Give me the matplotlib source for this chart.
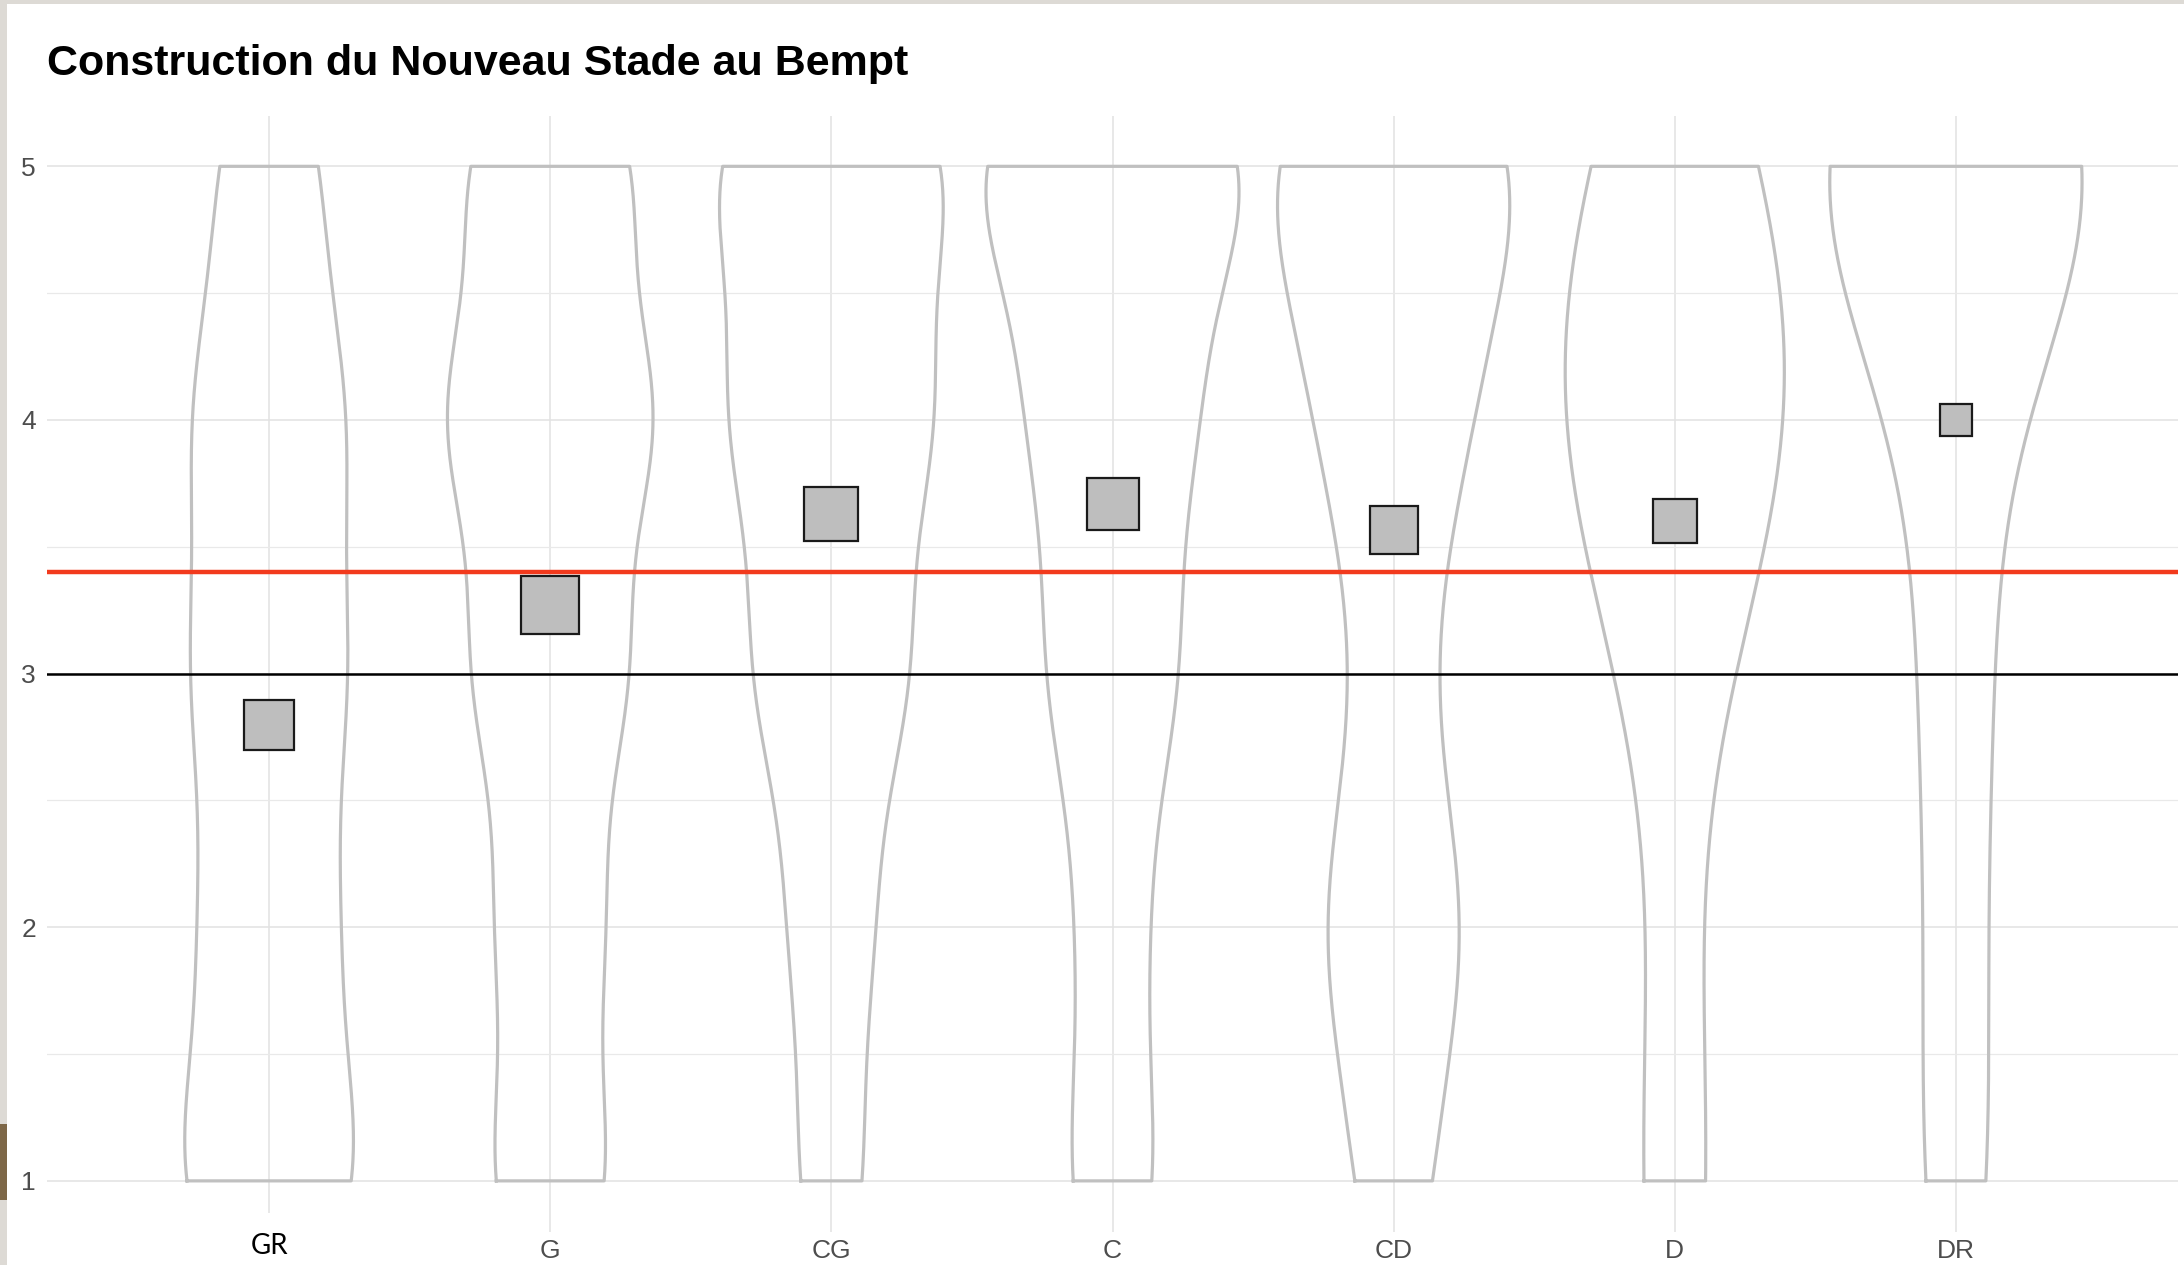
import numpy as np
import matplotlib
matplotlib.use('Agg')
import matplotlib.pyplot as plt
from matplotlib.patches import Rectangle

plt.rcParams['font.family'] = ['Liberation Sans', 'DejaVu Sans']

# reponses (1..5) par secteur du stade
groups = ['GR', 'G', 'CG', 'C', 'CD', 'D', 'DR']
levels = [1, 2, 3, 4, 5]
counts = [
    [24, 17, 20, 20, 13],   # GR
    [21, 19, 28, 38, 30],   # G
    [7, 9, 17, 22, 26],     # CG
    [12, 9, 18, 22, 39],    # C
    [7, 14, 6, 14, 26],     # CD
    [1, 0, 0, 3, 1],        # D
    [2, 1, 2, 1, 10],       # DR
]
poids = [74, 100, 84, 80, 68, 55, 30]   # taille des carres (relatif)
seuil_rouge = 3.4
seuil_noir = 3
title = 'Construction du Nouveau Stade au Bempt'


def nrd0(x):
    # meme largeur de bande que R / ggplot
    hi = np.std(x, ddof=1)
    q = np.percentile(x, [25, 75])
    lo = min(hi, (q[1] - q[0]) / 1.34)
    if lo == 0:
        lo = hi
    return 0.9 * lo * len(x) ** -0.2


def kde(x, ys):
    bw = nrd0(x)
    z = (ys[:, None] - x[None, :]) / bw
    return np.exp(-0.5 * z * z).mean(axis=1) / (bw * np.sqrt(2 * np.pi))


fig = plt.figure(figsize=(21.84, 12.65), dpi=100)
ax = fig.add_axes([47 / 2184, 33.4 / 1265, 2131 / 2184, 1116 / 1265])

# bords gris de la capture
fig.add_artist(Rectangle((0, 0), 7 / 2184, 1, transform=fig.transFigure,
                         fc='#dddad5', ec='none', zorder=10))
fig.add_artist(Rectangle((0, 1 - 4 / 1265), 1, 4 / 1265, transform=fig.transFigure,
                         fc='#dddad5', ec='none', zorder=10))
fig.add_artist(Rectangle((0, 65 / 1265), 7 / 2184, 76 / 1265, transform=fig.transFigure,
                         fc='#7d6747', ec='none', zorder=11))

ys = np.linspace(1, 5, 512)
data = [np.repeat(levels, c).astype(float) for c in counts]
dens = [kde(d, ys) for d in data]
fmax = max(f.max() for f in dens)

for i, (d, f) in enumerate(zip(data, dens)):
    x = i + 1
    hw = 0.45 * f / fmax
    ax.plot(np.r_[x - hw, (x + hw)[::-1], x - hw[0]], np.r_[ys, ys[::-1], ys[0]],
            color='#c0c0c0', lw=2.3, zorder=2, solid_joinstyle='round')
    side = 58 * np.sqrt(poids[i] / 100) * 0.72
    ax.plot(x, d.mean(), 's', ms=side, mfc='#bebebe', mec='#1a1a1a', mew=1.6, zorder=4)

ax.axhline(seuil_rouge, color='#f23a1d', lw=3.2, zorder=3)
ax.axhline(seuil_noir, color='black', lw=1.8, zorder=3)

ax.set_xlim(0.21, 7.79)
ax.set_ylim(0.8, 5.2)
ax.set_xticks(range(1, len(groups) + 1))
ax.set_xticklabels(groups)
ax.set_yticks([1, 2, 3, 4, 5])
ax.set_yticks([1.5, 2.5, 3.5, 4.5], minor=True)
ax.grid(True, which='major', color='#e2e2e2', lw=1.1)
ax.grid(True, which='minor', axis='y', color='#e9e9e9', lw=0.9)
ax.set_axisbelow(True)
for s in ax.spines.values():
    s.set_visible(False)
ax.tick_params(axis='both', which='both', length=0)
ax.tick_params(axis='x', pad=5.5, labelsize=19, labelcolor='#4d4d4d')
ax.tick_params(axis='y', pad=8, labelsize=19, labelcolor='#4d4d4d')

# etiquette GR collee par-dessus (autre police, en noir)
ax.get_xticklabels()[0].set_alpha(0)
ax.add_patch(Rectangle((0.88, -0.045), 0.24, 0.062, transform=ax.get_xaxis_transform(),
                       fc='white', ec='none', zorder=1.6, clip_on=False))
ax.text(1, -0.0125, 'GR', transform=ax.get_xaxis_transform(), ha='center', va='center',
        fontsize=20, color='black', family=['Lato', 'DejaVu Sans'], zorder=5)

fig.text(47 / 2184, 1 - 64 / 1265, title, fontsize=31, fontweight='bold',
         va='center', ha='left', color='black')

fig.savefig('out.png')
